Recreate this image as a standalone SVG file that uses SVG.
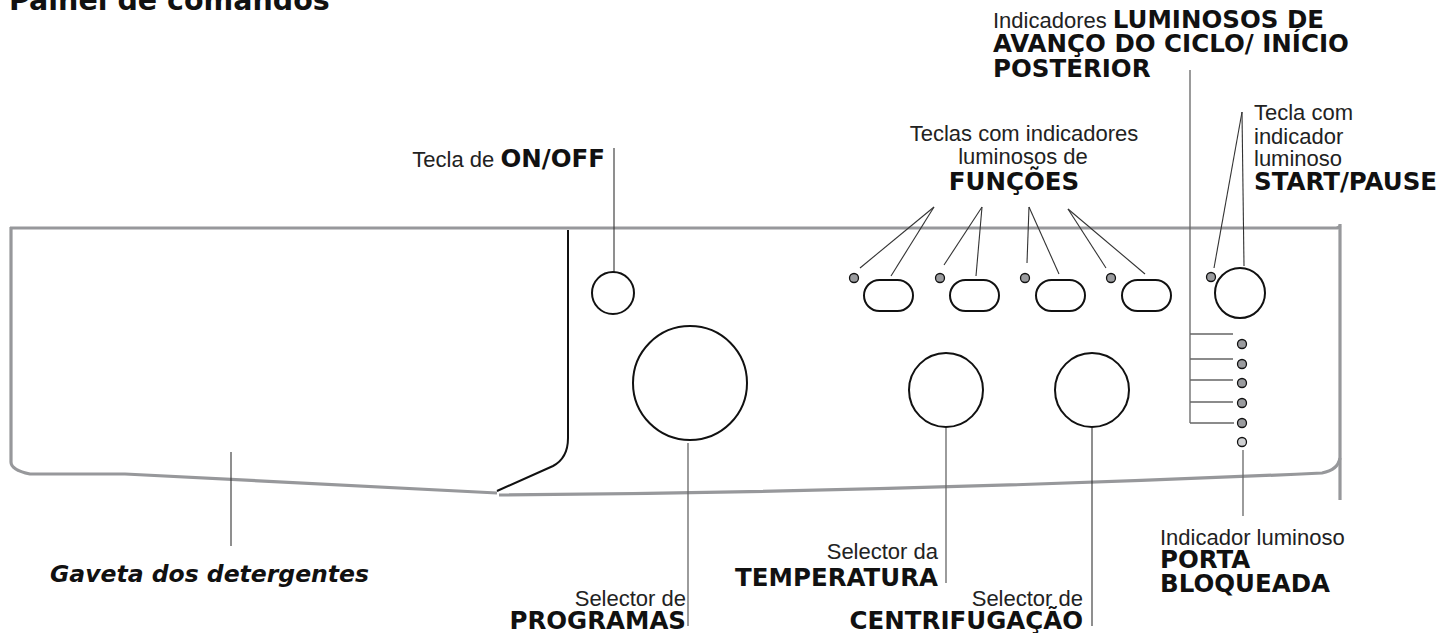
<svg xmlns="http://www.w3.org/2000/svg" width="1445" height="633" viewBox="0 0 1445 633">
<defs>
<style>
.panel{fill:none;stroke:#97989b;stroke-width:3.2;stroke-linejoin:round;stroke-linecap:butt}
.blk{fill:none;stroke:#111;stroke-width:2}
.ctl{fill:#fff;stroke:#111;stroke-width:2}
.led{fill:#9a9b9e;stroke:#111;stroke-width:1.3}
.led2{fill:#cfd0d2;stroke:#111;stroke-width:1.3}
.lead{fill:none;stroke:#333;stroke-width:1.1}
.leadg{fill:none;stroke:#666;stroke-width:1.3}
.r{font-family:"Liberation Sans",Arial,sans-serif;font-size:22px;fill:#222}
.b{font-family:"DejaVu Sans","Liberation Sans",sans-serif;font-weight:bold;font-size:24.5px;fill:#111}
.t{font-family:"DejaVu Sans","Liberation Sans",sans-serif;font-weight:bold;font-size:28.5px;fill:#111}
.i{font-family:"DejaVu Sans","Liberation Sans",sans-serif;font-weight:bold;font-style:italic;font-size:23.5px;fill:#111}
</style>
</defs>
<rect width="1445" height="633" fill="#fff"/>
<text class="t" x="9" y="10">Painel de comandos</text>

<g id="panel">
<path class="panel" d="M10,228 L1336,228 Q1339,228 1340,226"/>
<path class="panel" d="M11,227 L11,462 Q11,470 30,474 L125,474 L497,493"/>
<path class="panel" d="M499,495 Q900,492 1322,473 Q1338,470 1340,458"/>
<line class="panel" x1="1340" y1="224" x2="1340" y2="500"/>
<path class="blk" d="M568,230 L568,438 Q568,458 553,466 L497,491"/>
</g>

<g id="connectors">
<line class="lead" x1="614" y1="148" x2="614" y2="273"/>
<line class="lead" x1="934" y1="207" x2="860" y2="268"/>
<line class="lead" x1="934" y1="207" x2="891" y2="276"/>
<line class="lead" x1="982" y1="207" x2="944" y2="265"/>
<line class="lead" x1="982" y1="207" x2="976" y2="276"/>
<line class="lead" x1="1029" y1="207" x2="1027" y2="263"/>
<line class="lead" x1="1029" y1="207" x2="1059" y2="274"/>
<line class="lead" x1="1068" y1="209" x2="1106" y2="268"/>
<line class="lead" x1="1068" y1="209" x2="1145" y2="274"/>
<line class="lead" x1="1242" y1="112" x2="1214" y2="268"/>
<line class="lead" x1="1242" y1="112" x2="1244" y2="266"/>
<path class="leadg" d="M1190,70 L1190,423 M1190,334 L1233,334 M1190,359 L1233,359 M1190,380 L1233,380 M1190,402 L1233,402 M1190,423 L1234,423"/>
<line class="leadg" x1="1243" y1="450" x2="1243" y2="516"/>
<line class="leadg" x1="946" y1="428" x2="946" y2="583"/>
<line class="leadg" x1="688" y1="443" x2="688" y2="626"/>
<line class="lead" x1="1092" y1="428" x2="1092" y2="626"/>
<line class="lead" x1="231" y1="452" x2="231" y2="546"/>
</g>

<g id="onoff"><circle class="ctl" cx="613" cy="293" r="21"/></g>
<g id="programas"><circle class="ctl" cx="690" cy="383" r="57"/></g>
<g id="temperatura"><circle class="ctl" cx="946" cy="390" r="37"/></g>
<g id="centrifugacao"><circle class="ctl" cx="1092" cy="390" r="37"/></g>
<g id="startpause"><circle class="ctl" cx="1240" cy="293" r="25"/><circle class="led" cx="1211" cy="277" r="4.5"/></g>
<g id="func1"><rect class="ctl" x="864" y="280" width="49" height="31" rx="15.5"/><circle class="led" cx="854" cy="278" r="4.5"/></g>
<g id="func2"><rect class="ctl" x="950" y="280" width="49" height="31" rx="15.5"/><circle class="led" cx="940" cy="278" r="4.5"/></g>
<g id="func3"><rect class="ctl" x="1036" y="280" width="49" height="31" rx="15.5"/><circle class="led" cx="1025" cy="278" r="4.5"/></g>
<g id="func4"><rect class="ctl" x="1122" y="280" width="49" height="31" rx="15.5"/><circle class="led" cx="1111" cy="278" r="4.5"/></g>
<g id="leds">
<circle class="led" cx="1242" cy="344" r="4.5"/>
<circle class="led" cx="1242" cy="364" r="4.5"/>
<circle class="led" cx="1242" cy="383" r="4.5"/>
<circle class="led" cx="1242" cy="403" r="4.5"/>
<circle class="led" cx="1242" cy="423" r="4.5"/>
<circle class="led2" cx="1242" cy="442" r="4.5"/>
</g>

<g id="labels">
<text x="605" y="167" text-anchor="end"><tspan class="r">Tecla de </tspan><tspan class="b">ON/OFF</tspan></text>
<text x="993" y="28"><tspan class="r">Indicadores </tspan><tspan class="b">LUMINOSOS DE</tspan></text>
<text class="b" x="993" y="52">AVANÇO DO CICLO/ INÍCIO</text>
<text class="b" x="993" y="77">POSTERIOR</text>
<text class="r" x="1024" y="141" text-anchor="middle">Teclas com indicadores</text>
<text class="r" x="1023" y="164" text-anchor="middle">luminosos de</text>
<text class="b" x="1014" y="190" text-anchor="middle">FUNÇÕES</text>
<text class="r" x="1254" y="120">Tecla com</text>
<text class="r" x="1254" y="144">indicador</text>
<text class="r" x="1254" y="166">luminoso</text>
<text class="b" x="1254" y="190">START/PAUSE</text>
<text class="r" x="1160" y="545">Indicador luminoso</text>
<text class="b" x="1160" y="568">PORTA</text>
<text class="b" x="1160" y="592">BLOQUEADA</text>
<text class="r" x="938" y="559" text-anchor="end">Selector da</text>
<text class="b" x="938" y="586" text-anchor="end">TEMPERATURA</text>
<text class="r" x="686" y="606" text-anchor="end">Selector de</text>
<text class="b" x="686" y="629" text-anchor="end">PROGRAMAS</text>
<text class="r" x="1083" y="606" text-anchor="end">Selector de</text>
<text class="b" x="1083" y="629" text-anchor="end">CENTRIFUGAÇÃO</text>
<text class="i" x="50" y="582">Gaveta dos detergentes</text>
</g>
</svg>
